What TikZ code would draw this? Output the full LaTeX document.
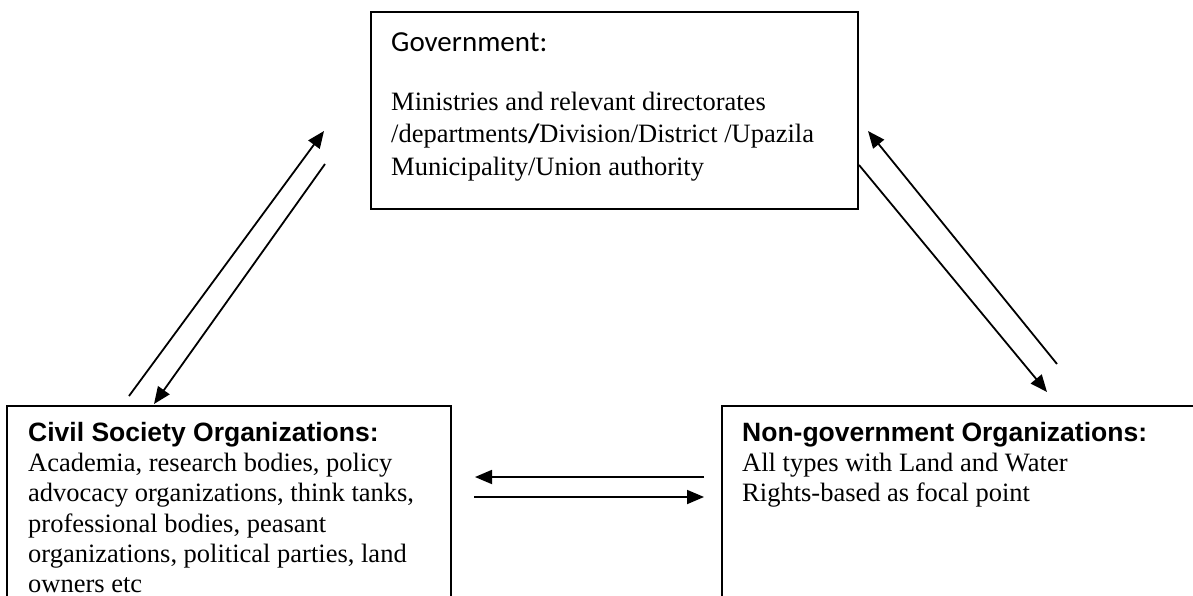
\documentclass[tikz,border=0pt]{standalone}
\usepackage{fontspec}
\setmainfont{Liberation Serif}
\newfontfamily\headfont{Liberation Sans}
\newfontfamily\calibrifont{Carlito}
\usetikzlibrary{arrows.meta,calc,positioning}
\tikzset{
    org-box/.style = {draw=black, line width=2pt, rectangle, inner sep=0pt},
    org-text/.style = {inner sep=0pt, align=left, font=\fontsize{26.5}{30.2}\selectfont},
    org-title/.style = {font=\headfont\bfseries},
    link-arrow/.style = {line width=1.8pt, -{Triangle[length=17pt,width=14pt]}},
}

\begin{document}
\begin{tikzpicture}[x=1pt, y=-1pt]
\useasboundingbox (0,0) rectangle (1193,596);
\clip (0,0) rectangle (1193,596);
\node [org-box, minimum width=487pt, minimum height=197pt] (gov) at (614.5,110.5) {};
\node [org-box, minimum width=444pt, minimum height=224pt] (cso) at (229,518) {};
\node [org-box, minimum width=483pt, minimum height=190.5pt] (ngo) at (963.5,501.25) {};
\node [inner sep=0pt, font=\calibrifont\fontsize{29}{33}\selectfont, below right=21pt and 21pt of gov.north west] (gov-title) {Government:};
\node [org-text, font=\fontsize{26.5}{32.5}\selectfont, below right=40pt and 0pt of gov-title.south west] (gov-text) {Ministries and relevant directorates\\/departments{\calibrifont\bfseries /}Division/District /Upazila\\Municipality/Union authority};
\node [org-text, below right=17pt and 22pt of cso.north west] (cso-text) {{\headfont\bfseries Civil Society Organizations:}\\Academia, research bodies, policy\\advocacy organizations, think tanks,\\professional bodies, peasant\\organizations, political parties, land\\owners etc};
\node [org-text, below right=17pt and 21pt of ngo.north west] (ngo-text) {{\headfont\bfseries Non-government Organizations:}\\All types with Land and Water\\Rights-based as focal point};
\coordinate (cso-up) at ($(cso.north west)+(123,-9)$);
\coordinate (gov-in-left) at ($(gov.south west)+(-46,-79)$);
\coordinate (gov-out-left) at ($(gov.south west)+(-45,-46)$);
\coordinate (cso-in-top) at ($(cso.north west)+(148,-1)$);
\coordinate (ngo-up) at ($(ngo.north west)+(336,-41)$);
\coordinate (gov-in-right) at ($(gov.south east)+(9,-79)$);
\coordinate (gov-out-right) at ($(gov.south east)+(0,-45)$);
\coordinate (ngo-in-top) at ($(ngo.north west)+(326,-13)$);
\coordinate (ngo-out-left) at ($(ngo.north west)+(-17,72)$);
\coordinate (cso-in-right) at ($(cso.north east)+(23,72)$);
\coordinate (cso-out-right) at ($(cso.north east)+(22,92)$);
\coordinate (ngo-in-left) at ($(ngo.north west)+(-17,92)$);
\draw [link-arrow] (cso-up) -- (gov-in-left);
\draw [link-arrow] (gov-out-left) -- (cso-in-top);
\draw [link-arrow] (ngo-up) -- (gov-in-right);
\draw [link-arrow] (gov-out-right) -- (ngo-in-top);
\draw [link-arrow] (ngo-out-left) -- (cso-in-right);
\draw [link-arrow] (cso-out-right) -- (ngo-in-left);
\end{tikzpicture}
\end{document}
